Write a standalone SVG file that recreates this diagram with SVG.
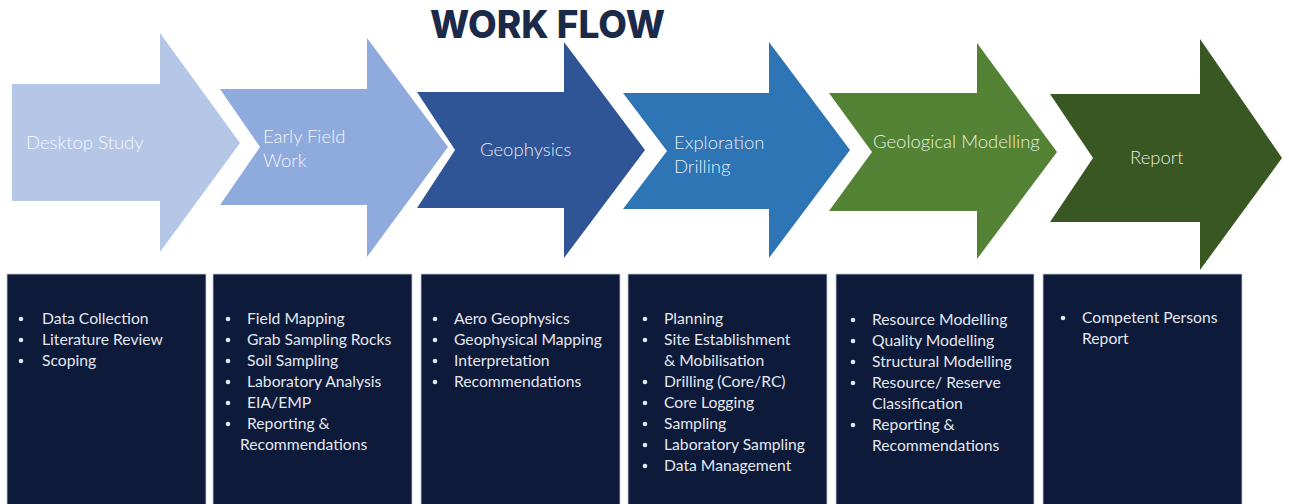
<svg xmlns="http://www.w3.org/2000/svg" width="1289" height="504" viewBox="0 0 1289 504">
<style>
.lbl{font-family:Lato,"Open Sans","Liberation Sans",sans-serif;font-weight:300;font-size:18.5px;fill:#ffffff;fill-opacity:0.9}
.box{fill:#0d1a3a;stroke:#c9ccd4;stroke-width:0.8}
.it{font-family:Lato,"Liberation Sans",sans-serif;font-size:15.7px;fill:#e4e7ee}
.bul{fill:#e4e7ee}
.title{font-family:Inter,"Liberation Sans",sans-serif;font-weight:800;font-size:38px;fill:#1b2a49}
</style>
<rect width="1289" height="504" fill="#ffffff"/>
<text class="title" x="430" y="38" textLength="235" lengthAdjust="spacingAndGlyphs">WORK FLOW</text>
<g id="connectors"></g>
<g id="desktop-study">
<path d="M12,84 H160 V33 L240,143 L160,252 V201 H12 Z" fill="#b4c7e7"/>
<text class="lbl" x="26" y="149">Desktop Study</text>
</g>
<g id="early-field-work">
<path d="M220,89 H367 V38 L448,147 L367,257 V205 H220 L260,147 Z" fill="#8faadc"/>
<text class="lbl" x="263" y="143">Early Field</text>
<text class="lbl" x="263" y="167">Work</text>
</g>
<g id="geophysics">
<path d="M417,92 H564 V42 L645,150 L564,258 V208 H417 L455,150 Z" fill="#2f5597"/>
<text class="lbl" x="480" y="156">Geophysics</text>
</g>
<g id="exploration-drilling">
<path d="M623,93 H769 V42 L850,150 L769,258 V209 H623 L667,151 Z" fill="#2e75b6"/>
<text class="lbl" x="674" y="149">Exploration</text>
<text class="lbl" x="674" y="173">Drilling</text>
</g>
<g id="geological-modelling">
<path d="M829,93 H977 V43 L1057,152 L977,259 V211 H829 L872,152 Z" fill="#548235"/>
<text class="lbl" x="873" y="148">Geological Modelling</text>
</g>
<g id="report">
<path d="M1050,94 H1200 V39 L1282,158 L1200,270 V222 H1050 L1093,158 Z" fill="#385723"/>
<text class="lbl" x="1130" y="164">Report</text>
</g>
<g id="box-desktop">
<rect class="box" x="7" y="274" width="199" height="232"/>
<circle class="bul" cx="21" cy="319" r="2.3"/><text class="it" x="42" y="324">Data Collection</text>
<circle class="bul" cx="21" cy="340" r="2.3"/><text class="it" x="42" y="345">Literature Review</text>
<circle class="bul" cx="21" cy="361" r="2.3"/><text class="it" x="42" y="366">Scoping</text>
</g>
<g id="box-early">
<rect class="box" x="213" y="274" width="199" height="232"/>
<circle class="bul" cx="228" cy="319" r="2.3"/><text class="it" x="247" y="324">Field Mapping</text>
<circle class="bul" cx="228" cy="340" r="2.3"/><text class="it" x="247" y="345">Grab Sampling Rocks</text>
<circle class="bul" cx="228" cy="361" r="2.3"/><text class="it" x="247" y="366">Soil Sampling</text>
<circle class="bul" cx="228" cy="382" r="2.3"/><text class="it" x="247" y="387">Laboratory Analysis</text>
<circle class="bul" cx="228" cy="403" r="2.3"/><text class="it" x="247" y="408">EIA/EMP</text>
<circle class="bul" cx="228" cy="424" r="2.3"/><text class="it" x="247" y="429">Reporting &amp;</text>
<text class="it" x="240" y="450">Recommendations</text>
</g>
<g id="box-geophysics">
<rect class="box" x="421" y="274" width="199" height="232"/>
<circle class="bul" cx="435" cy="319" r="2.3"/><text class="it" x="454" y="324">Aero Geophysics</text>
<circle class="bul" cx="435" cy="340" r="2.3"/><text class="it" x="454" y="345">Geophysical Mapping</text>
<circle class="bul" cx="435" cy="361" r="2.3"/><text class="it" x="454" y="366">Interpretation</text>
<circle class="bul" cx="435" cy="382" r="2.3"/><text class="it" x="454" y="387">Recommendations</text>
</g>
<g id="box-drilling">
<rect class="box" x="628" y="274" width="199" height="232"/>
<circle class="bul" cx="645" cy="319" r="2.3"/><text class="it" x="664" y="324">Planning</text>
<circle class="bul" cx="645" cy="340" r="2.3"/><text class="it" x="664" y="345">Site Establishment</text>
<text class="it" x="664" y="366">&amp; Mobilisation</text>
<circle class="bul" cx="645" cy="382" r="2.3"/><text class="it" x="664" y="387">Drilling (Core/RC)</text>
<circle class="bul" cx="645" cy="403" r="2.3"/><text class="it" x="664" y="408">Core Logging</text>
<circle class="bul" cx="645" cy="424" r="2.3"/><text class="it" x="664" y="429">Sampling</text>
<circle class="bul" cx="645" cy="445" r="2.3"/><text class="it" x="664" y="450">Laboratory Sampling</text>
<circle class="bul" cx="645" cy="466" r="2.3"/><text class="it" x="664" y="471">Data Management</text>
</g>
<g id="box-modelling">
<rect class="box" x="836" y="274" width="198" height="232"/>
<circle class="bul" cx="853" cy="320" r="2.3"/><text class="it" x="872" y="325">Resource Modelling</text>
<circle class="bul" cx="853" cy="341" r="2.3"/><text class="it" x="872" y="346">Quality Modelling</text>
<circle class="bul" cx="853" cy="362" r="2.3"/><text class="it" x="872" y="367">Structural Modelling</text>
<circle class="bul" cx="853" cy="383" r="2.3"/><text class="it" x="872" y="388">Resource/ Reserve</text>
<text class="it" x="872" y="409">Classification</text>
<circle class="bul" cx="853" cy="425" r="2.3"/><text class="it" x="872" y="430">Reporting &amp;</text>
<text class="it" x="872" y="451">Recommendations</text>
</g>
<g id="box-report">
<rect class="box" x="1043" y="274" width="199" height="232"/>
<circle class="bul" cx="1063" cy="318" r="2.3"/><text class="it" x="1082" y="323">Competent Persons</text>
<text class="it" x="1082" y="344">Report</text>
</g>
</svg>
